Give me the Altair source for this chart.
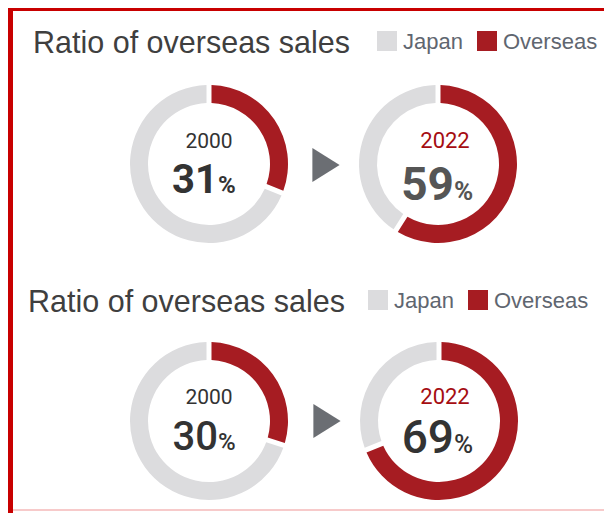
import altair as alt
import pandas as pd

# ---- data ----
regions = ["Japan", "Overseas"]
colors = ["#dcdcde", "#a61c22"]
years = ["2000", "2022"]
top_overseas = [31, 59]
bottom_overseas = [30, 69]
title_text = "Ratio of overseas sales"

W, H = 596, 505
FONT_TITLE = "Liberation Sans"
FONT_NUM = "Roboto"

color_scale = alt.Scale(domain=regions, range=colors)
theta_scale = alt.Scale(domain=[0, 100])


def donut(overseas, cx, cy):
    df = pd.DataFrame({
        "region": regions,
        "value": [100 - overseas, overseas],
        "ord": [2, 1],
    })
    return alt.Chart(df).mark_arc(outerRadius=79, innerRadius=61, padAngle=0.05).encode(
        theta=alt.Theta("value:Q", stack=True, scale=theta_scale),
        color=alt.Color("region:N", scale=color_scale, legend=None),
        order=alt.Order("ord:Q"),
        x=alt.value(cx),
        y=alt.value(cy),
    )


def txt(s, x, y, size, color, weight="normal", align="center", font=FONT_NUM):
    df = pd.DataFrame({"t": [s]})
    return alt.Chart(df).mark_text(
        fontSize=size, color=color, fontWeight=weight, align=align,
        baseline="alphabetic", font=font,
    ).encode(text="t:N", x=alt.value(x), y=alt.value(y))


def center_label(year, pct, cx, num_base, year_base, year_color, num_color,
                 num_size, pct_size, weight, split, gap, year_size=21):
    return [
        txt(year, cx, year_base, year_size, year_color),
        txt(str(pct), cx + split, num_base, num_size, num_color, weight, align="right"),
        txt("%", cx + split + gap, num_base, pct_size, num_color, weight, align="left"),
    ]


def arrow(x, y):
    df = pd.DataFrame({"a": [1]})
    return alt.Chart(df).mark_point(
        shape="M-0.8,-1L0.8,0L-0.8,1Z", size=1156, filled=True,
        color="#6b6e73", opacity=1, strokeWidth=0,
    ).encode(x=alt.value(x), y=alt.value(y))


def square(x, y, c):
    df = pd.DataFrame({"a": [1]})
    return alt.Chart(df).mark_square(size=400, color=c, opacity=1).encode(
        x=alt.value(x), y=alt.value(y))


def header(tx, ty, gx, jx, rx, ox, sy, ly):
    return [
        txt(title_text, tx, ty, 30.5, "#3f3f3f", align="left", font=FONT_TITLE),
        square(gx, sy, colors[0]),
        txt(regions[0], jx, ly, 22, "#5f6670", align="left", font=FONT_TITLE),
        square(rx, sy, colors[1]),
        txt(regions[1], ox, ly, 22, "#5f6670", align="left", font=FONT_TITLE),
    ]


def rule(x, x2, y, y2, c, w):
    df = pd.DataFrame({"a": [1]})
    return alt.Chart(df).mark_rule(color=c, strokeWidth=w).encode(
        x=alt.value(x), x2=alt.value(x2), y=alt.value(y), y2=alt.value(y2))


layers = []
# border
layers.append(rule(2.5, 2.5, 0, H, "#c80000", 5))
layers.append(rule(0, W, 1, 1, "#c80000", 4))
layers.append(rule(5, W, 502, 502, "#f7caca", 2))

# top block
layers += header(25, 45, 379, 395, 479, 495, 33, 41)
layers.append(donut(top_overseas[0], 201, 156))
layers.append(donut(top_overseas[1], 430, 156))
layers.append(arrow(318, 157))
layers += center_label(years[0], top_overseas[0], 201, 185, 140, "#333333", "#333333", 40, 24, "bold", 9, 0)
layers += center_label(years[1], top_overseas[1], 437, 192, 140, "#a50d12", "#555555", 46, 26, "bold", 9, 0, 22)

# bottom block
layers += header(20, 304, 370, 386, 470, 486, 292, 300)
layers.append(donut(bottom_overseas[0], 201, 413))
layers.append(donut(bottom_overseas[1], 431, 413))
layers.append(arrow(319, 413))
layers += center_label(years[0], bottom_overseas[0], 201, 442, 396, "#333333", "#333333", 40, 24, 500, 9, 0)
layers += center_label(years[1], bottom_overseas[1], 437, 445, 396, "#a50d12", "#333333", 46, 26, 500, 9, 0, 22)

chart = alt.layer(*layers).properties(
    width=W, height=H,
    autosize=alt.AutoSizeParams(type="none"),
    padding=0,
).configure_view(stroke=None)

chart.save("out.html", embed_options={"renderer": "svg", "actions": False})
